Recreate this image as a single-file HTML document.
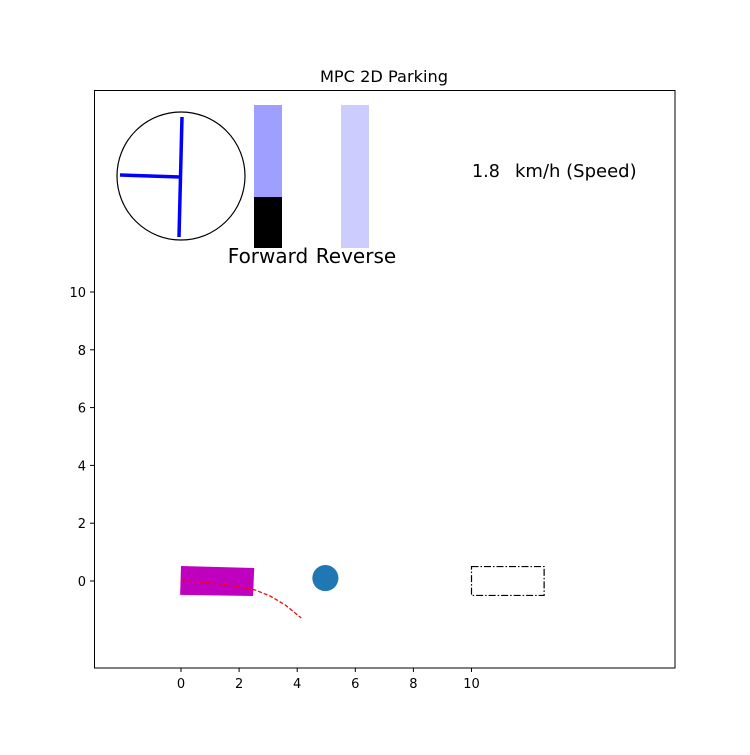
<!DOCTYPE html>
<html><head><meta charset="utf-8"><style>
body{margin:0;background:#fff;}
svg text{font-family:"DejaVu Sans","Liberation Sans",sans-serif;}
</style></head><body>
<svg id="chart" width="750" height="750" xmlns="http://www.w3.org/2000/svg">
<rect width="750" height="750" fill="#fff"/>
<text x="384" y="82" font-size="16.2" text-anchor="middle">MPC 2D Parking</text>
<g id="plot"></g>
<rect x="94.5" y="90.5" width="580.5" height="577.5" fill="none" stroke="#000" stroke-width="1"/>
<g>
<circle cx="181" cy="176" r="64" fill="none" stroke="#000" stroke-width="1.2"/>
<line x1="182" y1="117" x2="179" y2="237" stroke="#0000ff" stroke-width="3.5"/>
<line x1="120" y1="175" x2="180" y2="177" stroke="#0000ff" stroke-width="3.5"/>
</g>
<rect x="254" y="105" width="28" height="92" fill="#9f9fff"/>
<rect x="254" y="197" width="28" height="51" fill="#000"/>
<rect x="341" y="105" width="28" height="143" fill="#ccccff"/>
<text x="268" y="263" font-size="20" text-anchor="middle">Forward</text>
<text x="356" y="263" font-size="20" text-anchor="middle">Reverse</text>
<text x="472" y="177" font-size="17.5">1.8</text>
<text x="515" y="177" font-size="18">km/h (Speed)</text>
</svg>
<script>
const xTicks=[0,2,4,6,8,10];
const yTicks=[0,2,4,6,8,10];
const pathX=[0,0.66,1.34,2.03,2.55,3.07,3.59,4.14];
const pathY=[0,-0.03,-0.1,-0.21,-0.31,-0.52,-0.83,-1.28];
const carX=[0,2.52,2.48,-0.03];
const carY=[0.52,0.45,-0.52,-0.48];
const obstacleX=[4.97];
const obstacleY=[0.1];
const obstacleR=[0.45];
const targetX=[10,12.5];
const targetY=[-0.5,0.5];
const sx=v=>181+v*29.05, sy=v=>581-v*28.9;
const NS="http://www.w3.org/2000/svg";
const g=document.getElementById('plot');
function mk(t,a){const e=document.createElementNS(NS,t);for(const k in a)e.setAttribute(k,a[k]);g.appendChild(e);return e;}
xTicks.forEach(v=>{
 const l=mk('line',{x1:sx(v),x2:sx(v),y1:668,y2:672,stroke:'#000'});
 
 
 const t=mk('text',{x:sx(v),y:688,'font-size':13,'text-anchor':'middle'});t.textContent=v;
 
 
});
yTicks.forEach(v=>{
 const l=mk('line',{x1:90,x2:94,y1:sy(v),y2:sy(v),stroke:'#000'});
 
 
 const t=mk('text',{x:86,y:sy(v)+5,'font-size':13,'text-anchor':'end'});t.textContent=v;
 
 
});
const car=mk('polygon',{points:carX.map((x,i)=>sx(x)+','+sy(carY[i])).join(' '),fill:'#bf00bf'});


const p=mk('polyline',{points:pathX.map((x,i)=>sx(x)+','+sy(pathY[i])).join(' '),fill:'none',stroke:'#ff0000','stroke-width':1.3,'stroke-dasharray':'4,2'});


obstacleX.forEach((x,i)=>{
 const c=mk('circle',{cx:sx(x),cy:sy(obstacleY[i]),r:obstacleR[i]*29,fill:'#1f77b4'});
 
 
});
const tr=mk('rect',{x:sx(targetX[0]),y:sy(targetY[1]),width:sx(targetX[1])-sx(targetX[0]),height:sy(targetY[0])-sy(targetY[1]),fill:'none',stroke:'#000','stroke-width':1.2,'stroke-dasharray':'7,2,1.5,2'});


</script>
</body></html>
